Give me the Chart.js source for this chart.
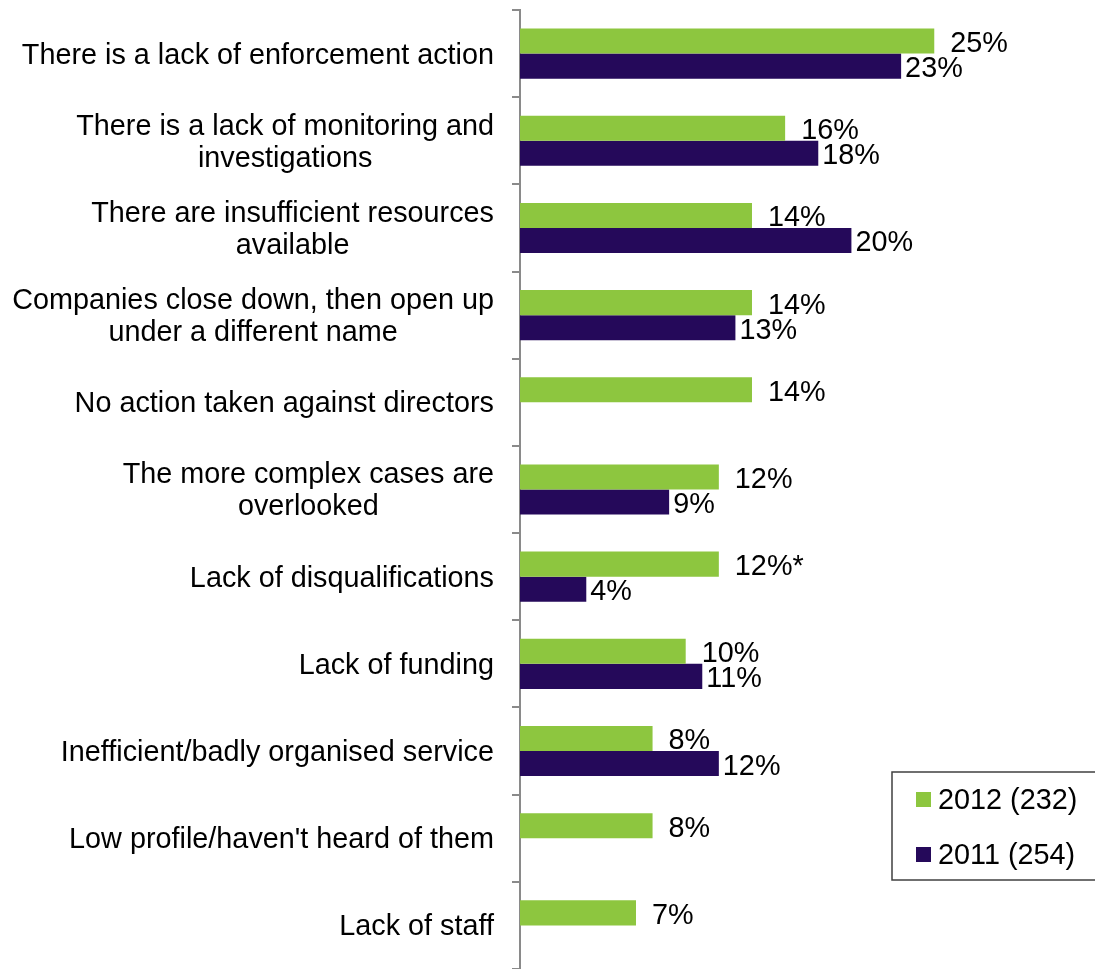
<!DOCTYPE html>
<html>
<head>
<meta charset="utf-8">
<script src="https://cdn.jsdelivr.net/npm/chart.js@4.4.1/dist/chart.umd.min.js"></script>
<style>
  html, body { margin: 0; padding: 0; background: #fff; }
  #wrap { width: 1095px; height: 969px; }
</style>
</head>
<body>
<div id="wrap"><canvas id="reasonsChart" width="1095" height="969"></canvas></div>
<script>
// Reasons given, by survey year (% of respondents)
const categories = [
    ['There is a lack of enforcement action'],
    ['There is a lack of monitoring and', 'investigations'],
    ['There are insufficient resources', 'available'],
    ['Companies close down, then open up', 'under a different name'],
    ['No action taken against directors'],
    ['The more complex cases are', 'overlooked'],
    ['Lack of disqualifications'],
    ['Lack of funding'],
    ['Inefficient/badly organised service'],
    ["Low profile/haven't heard of them"],
    ['Lack of staff']
];
const values2012 = [25, 16, 14, 14, 14, 12, 12, 10, 8, 8, 7];
const values2011 = [23, 18, 20, 13, null, 9, 4, 11, 12, null, null];
// significance markers appended to the 2012 labels
const notes2012 = ['', '', '', '', '', '', '*', '', '', '', ''];
const seriesNames = ['2012 (232)', '2011 (254)'];

const colorGreen = '#8dc63f';
const colorPurple = '#25095a';
const colorAxis = '#8a8a8a';
const fontFamily = '"Liberation Sans", Arial, sans-serif';
const fontSize = 28.8;

// Category names, drawn centred line by line and right-aligned as a block
const categoryLabels = {
    id: 'categoryLabels',
    afterDraw(chart) {
        const ctx = chart.ctx;
        const yScale = chart.scales.y;
        const right = chart.chartArea.left - 26;
        const lineHeight = 32;
        ctx.save();
        ctx.font = fontSize + 'px ' + fontFamily;
        ctx.fillStyle = '#000';
        ctx.textAlign = 'center';
        ctx.textBaseline = 'middle';
        categories.forEach((lines, i) => {
            const cy = yScale.getPixelForValue(i) + 2;
            const widest = Math.max(...lines.map(l => ctx.measureText(l).width));
            const cx = right - widest / 2;
            const top = cy - (lines.length - 1) * lineHeight / 2;
            lines.forEach((line, j) => ctx.fillText(line, cx, top + j * lineHeight));
        });
        ctx.restore();
    }
};

// Percentage labels at the end of each bar
const valueLabels = {
    id: 'valueLabels',
    afterDatasetsDraw(chart) {
        const ctx = chart.ctx;
        ctx.save();
        ctx.font = fontSize + 'px ' + fontFamily;
        ctx.fillStyle = '#000';
        ctx.textAlign = 'left';
        ctx.textBaseline = 'middle';
        chart.data.datasets.forEach((ds, di) => {
            const meta = chart.getDatasetMeta(di);
            const gap = di === 0 ? 16 : 4;
            meta.data.forEach((bar, i) => {
                const v = ds.data[i];
                if (v === null || v === undefined) return;
                const note = di === 0 ? notes2012[i] : '';
                ctx.fillText(v + '%' + note, bar.x + gap, bar.y + 3);
            });
        });
        ctx.restore();
    }
};

// Boxed legend in the lower right corner
const boxLegend = {
    id: 'boxLegend',
    afterDraw(chart) {
        const ctx = chart.ctx;
        const colors = [colorGreen, colorPurple];
        const x = 892, y = 772, w = 210, h = 108;
        ctx.save();
        ctx.fillStyle = '#fff';
        ctx.fillRect(x, y, w, h);
        ctx.strokeStyle = '#404040';
        ctx.lineWidth = 1.5;
        ctx.strokeRect(x, y, w, h);
        ctx.font = fontSize + 'px ' + fontFamily;
        ctx.textBaseline = 'middle';
        ctx.textAlign = 'left';
        seriesNames.forEach((name, i) => {
            const cy = y + 27 + i * 55;
            ctx.fillStyle = colors[i];
            ctx.fillRect(x + 24, cy - 7, 15, 15);
            ctx.fillStyle = '#000';
            ctx.fillText(name, x + 46, cy + 2);
        });
        ctx.restore();
    }
};

new Chart(document.getElementById('reasonsChart'), {
    type: 'bar',
    data: {
        labels: categories.map(c => c.join(' ')),
        datasets: [
            {
                label: seriesNames[0],
                data: values2012,
                backgroundColor: colorGreen,
                borderWidth: 0,
                barPercentage: 1,
                categoryPercentage: 0.575
            },
            {
                label: seriesNames[1],
                data: values2011,
                backgroundColor: colorPurple,
                borderWidth: 0,
                barPercentage: 1,
                categoryPercentage: 0.575
            }
        ]
    },
    options: {
        indexAxis: 'y',
        responsive: false,
        animation: false,
        layout: { padding: { top: 10, left: 0, right: 0, bottom: 0 } },
        plugins: {
            legend: { display: false },
            tooltip: { enabled: false }
        },
        scales: {
            x: {
                display: false,
                min: 0,
                max: 34.7
            },
            y: {
                offset: true,
                grid: {
                    offset: true,
                    drawOnChartArea: false,
                    drawTicks: true,
                    tickLength: 8,
                    color: colorAxis,
                    lineWidth: 2
                },
                border: { color: colorAxis, width: 2 },
                ticks: { display: false },
                afterFit(scale) { scale.width = 520; }
            }
        }
    },
    plugins: [categoryLabels, valueLabels, boxLegend]
});
</script>
</body>
</html>
